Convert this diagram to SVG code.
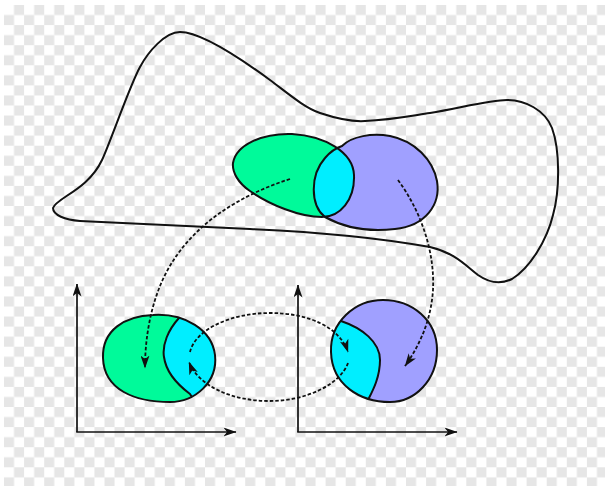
<svg xmlns="http://www.w3.org/2000/svg" width="605" height="486" viewBox="0 0 605 486">
<style>
.ol{fill:none;stroke:#111;stroke-width:2;stroke-linejoin:round}
.ax{fill:none;stroke:#111;stroke-width:1.7}
.dash{fill:none;stroke:#111;stroke-width:1.8;stroke-dasharray:3.5 2}
.g{fill:#00fa9a}
.b{fill:#a0a0ff}
.c{fill:#00eeff}
</style>
<defs>
<pattern id="chk" patternUnits="userSpaceOnUse" x="4" y="5" width="20.1" height="20.1">
<rect x="0" y="0" width="20.1" height="20.1" fill="#fff"/>
<rect x="10.05" y="0" width="10.05" height="10.05" fill="#e6e6e6"/>
<rect x="0" y="10.05" width="10.05" height="10.05" fill="#e6e6e6"/>
</pattern>
<marker id="ah" markerUnits="userSpaceOnUse" viewBox="0 0 13 9" markerWidth="13" markerHeight="9" refX="12.5" refY="4.5" orient="auto">
<path d="M13,4.5 L0,0 L3.5,4.5 L0,9 Z" fill="#111" stroke="none"/>
</marker>
<path id="gEl" d="M233,163 C236,145 262,133 292,134 C325,136 353,152 354,175 C355,200 340,217 322,217 C300,217 270,205 250,191 C238,183 232,172 233,163 Z"/>
<path id="bBl" d="M342,146 C352,136 372,133 390,136 C415,141 433,160 437,181 C441,205 425,226 395,229 C370,232 345,228 325,217 C310,205 310,175 325,158 C330,152 336,148 342,146 Z"/>
<clipPath id="clipB"><use href="#bBl"/></clipPath>
<path id="lOut" d="M153,315 C185,313 212,330 215,355 C218,382 195,402 170,402 C135,402 104,390 103,358 C102,330 125,316 153,315 Z"/>
<clipPath id="clipL"><use href="#lOut"/></clipPath>
<path id="rOut" d="M383,300 C412,300 437,320 437,350 C437,380 415,402 390,402 C360,402 332,385 331,352 C330,322 355,300 383,300 Z"/>
<clipPath id="clipR"><use href="#rOut"/></clipPath>
</defs>
<rect width="605" height="486" fill="#fff"/>
<rect x="4" y="5" width="601" height="481" fill="url(#chk)"/>

<g id="region">
<path class="ol" d="M53,208 C56,198 88,190 102,160 C110,143 130,85 140,67 C148,52 165,32 180,32 C200,32 240,58 270,80 C290,95 305,108 320,113 C335,118 350,122 365,121 C390,120 410,116 430,113 C460,108 490,100 507,100 C525,100 545,110 552,128 C560,150 560,190 553,215 C547,240 530,268 512,279 C500,285 488,282 478,275 C465,265 455,253 430,247 C380,238 320,232 250,229 C190,226 130,223 80,221 C65,220 53,215 53,208 Z"/>
</g>

<g id="sets">
<use href="#gEl" class="g"/>
<use href="#bBl" class="b"/>
<use href="#gEl" class="c" clip-path="url(#clipB)"/>
<use href="#gEl" class="ol"/>
<use href="#bBl" class="ol"/>
</g>

<g id="chart-left">
<use href="#lOut" class="g"/>
<g clip-path="url(#clipL)">
<path class="c" d="M182,305 L179,318 C168,330 162,345 164,357 C166,372 178,385 190,394 L200,410 L230,410 L230,300 Z"/>
<path class="ol" d="M182,305 L179,318 C168,330 162,345 164,357 C166,372 178,385 190,394 L200,410"/>
</g>
<use href="#lOut" class="ol"/>
<path class="ax" d="M77,432 L77,284" marker-end="url(#ah)"/>
<path class="ax" d="M76.2,432 L236,432" marker-end="url(#ah)"/>
</g>

<g id="chart-right">
<use href="#rOut" class="b"/>
<g clip-path="url(#clipR)">
<path class="c" d="M320,290 L330,290 L330,316 L341,321 C362,328 380,342 380,360 C380,378 372,392 368,400 L365,410 L320,410 Z"/>
<path class="ol" d="M330,316 L341,321 C362,328 380,342 380,360 C380,378 372,392 368,400 L365,410"/>
</g>
<use href="#rOut" class="ol"/>
<path class="ax" d="M298,432 L298,285" marker-end="url(#ah)"/>
<path class="ax" d="M297.2,432 L457,432" marker-end="url(#ah)"/>
</g>

<g id="connectors">
<path class="dash" d="M290,179 C240,195 190,225 165,275 C150,305 145,340 145,368" marker-end="url(#ah)"/>
<path class="dash" d="M398,180 C420,210 435,250 433,290 C431,320 420,345 405,366" marker-end="url(#ah)"/>
<path class="dash" d="M190,352 C195,330 230,313 270,313 C310,313 340,328 348,352" marker-end="url(#ah)"/>
<path class="dash" d="M348,363 C340,385 305,401 270,401 C230,401 198,385 189,362" marker-end="url(#ah)"/>
</g>
</svg>
